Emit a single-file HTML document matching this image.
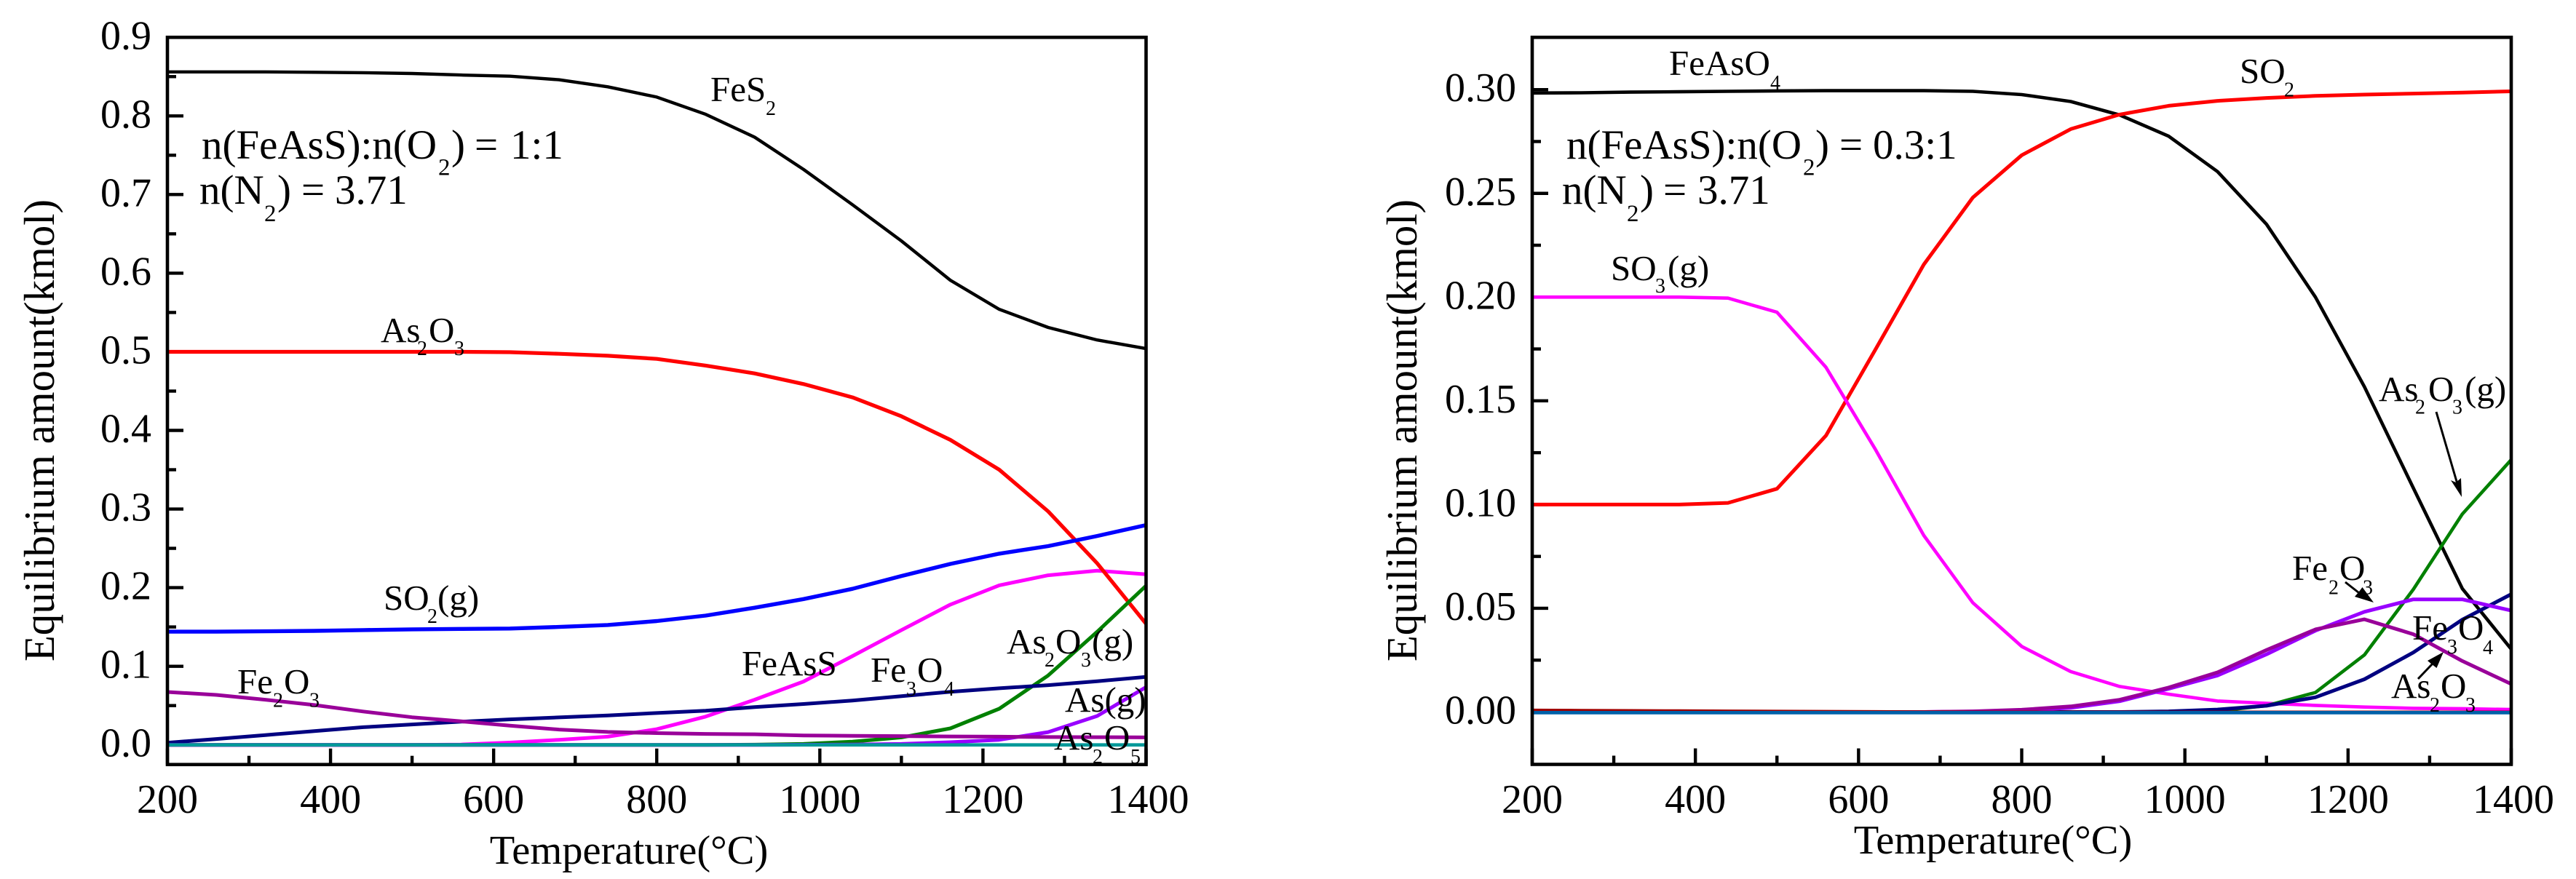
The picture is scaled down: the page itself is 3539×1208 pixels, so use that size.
<!DOCTYPE html>
<html lang="en">
<head>
<meta charset="utf-8">
<title>Equilibrium amount vs temperature</title>
<style>
  html, body { margin: 0; padding: 0; background: #fff; }
  svg { display: block; }
  text { font-family: "Liberation Serif", serif; fill: #000; }
  .tick { font-size: 56px; }
  .axis-title { font-size: 56.5px; }
  .y-title { font-size: 58.8px; }
  .lab { font-size: 49px; }
  .lab .s { font-size: 28px; }
  .cond { font-size: 57px; }
  .cond .s { font-size: 33px; }
</style>
</head>
<body>
<svg id="fig" xmlns="http://www.w3.org/2000/svg" width="3539" height="1208" viewBox="0 0 3539 1208">
  <rect x="0" y="0" width="3539" height="1208" fill="#fff"/>
  <g id="left-marks"></g>
  <g id="right-marks"></g>

  <!-- Left chart text -->
  <text class="y-title" transform="translate(74,591.5) rotate(-90)" text-anchor="middle">Equilibrium amount(kmol)</text>
  <text class="axis-title" x="864" y="1187" text-anchor="middle">Temperature(°C)</text>
  <text class="cond" x="277" y="218">n(FeAsS):n(O<tspan class="s" x="602" y="240.7">2</tspan><tspan x="620" y="218">)</tspan><tspan x="652" y="218">=</tspan><tspan x="701" y="218">1:1</tspan></text>
  <text class="cond" x="274" y="280">n(N<tspan class="s" x="363" y="304">2</tspan><tspan x="381" y="280">)</tspan><tspan x="414" y="280">=</tspan><tspan x="460" y="280">3.71</tspan></text>
  <text class="lab" x="976" y="139">FeS<tspan class="s" x="1052" y="158">2</tspan></text>
  <text class="lab" x="523" y="470">As<tspan class="s" x="573" y="488">2</tspan><tspan x="589" y="470">O</tspan><tspan class="s" x="624" y="488">3</tspan></text>
  <text class="lab" x="527" y="838">SO<tspan class="s" x="587" y="856">2</tspan><tspan x="601" y="838">(g)</tspan></text>
  <text class="lab" x="326" y="953">Fe<tspan class="s" x="375" y="971.5">2</tspan><tspan x="390" y="953">O</tspan><tspan class="s" x="425" y="971.5">3</tspan></text>
  <text class="lab" x="1019" y="928">FeAsS</text>
  <text class="lab" x="1196" y="937">Fe<tspan class="s" x="1245" y="956">3</tspan><tspan x="1260" y="937">O</tspan><tspan class="s" x="1297" y="956">4</tspan></text>
  <text class="lab" x="1383" y="898">As<tspan class="s" x="1435" y="916">2</tspan><tspan x="1450" y="898">O</tspan><tspan class="s" x="1485" y="916">3</tspan><tspan x="1500" y="898">(g)</tspan></text>
  <text class="lab" x="1463" y="978">As(g)</text>
  <text class="lab" x="1448" y="1030">As<tspan class="s" x="1501" y="1049">2</tspan><tspan x="1517" y="1030">O</tspan><tspan class="s" x="1553" y="1049">5</tspan></text>

  <!-- Right chart text -->
  <text class="y-title" transform="translate(1946,591.5) rotate(-90)" text-anchor="middle">Equilibrium amount(kmol)</text>
  <text class="axis-title" x="2738" y="1173" text-anchor="middle">Temperature(°C)</text>
  <text class="cond" x="2152" y="218">n(FeAsS):n(O<tspan class="s" x="2477" y="240.7">2</tspan><tspan x="2494" y="218">)</tspan><tspan x="2527" y="218">=</tspan><tspan x="2573" y="218">0.3:1</tspan></text>
  <text class="cond" x="2146" y="280">n(N<tspan class="s" x="2235" y="304">2</tspan><tspan x="2253" y="280">)</tspan><tspan x="2285" y="280">=</tspan><tspan x="2332" y="280">3.71</tspan></text>
  <text class="lab" x="2293" y="103">FeAsO<tspan class="s" x="2432" y="123">4</tspan></text>
  <text class="lab" x="3077" y="114">SO<tspan class="s" x="3138" y="132.5">2</tspan></text>
  <text class="lab" x="2213" y="385">SO<tspan class="s" x="2274" y="402">3</tspan><tspan x="2291" y="385">(g)</tspan></text>
  <text class="lab" x="3268" y="551">As<tspan class="s" x="3318" y="568.5">2</tspan><tspan x="3336" y="551">O</tspan><tspan class="s" x="3369" y="568.5">3</tspan><tspan x="3386" y="551">(g)</tspan></text>
  <text class="lab" x="3149" y="797">Fe<tspan class="s" x="3199" y="816.5">2</tspan><tspan x="3214" y="797">O</tspan><tspan class="s" x="3246" y="816.5">3</tspan></text>
  <text class="lab" x="3314" y="879">Fe<tspan class="s" x="3362" y="898">3</tspan><tspan x="3377" y="879">O</tspan><tspan class="s" x="3411" y="899">4</tspan></text>
  <text class="lab" x="3285" y="959">As<tspan class="s" x="3338" y="978">2</tspan><tspan x="3353" y="959">O</tspan><tspan class="s" x="3387" y="978">3</tspan></text>

  <!-- Pointer arrows -->
  <g>
    <line x1="3347" y1="566" x2="3376" y2="665" stroke="#000" stroke-width="3"/>
    <polygon points="3382,683 3367,660 3374,663 3381,657" fill="#000"/>
  </g>
  <g>
    <line x1="3222" y1="800" x2="3245" y2="818" stroke="#000" stroke-width="3"/>
    <polygon points="3261,828 3235,820 3241,813 3245.5,807" fill="#000"/>
  </g>
  <g>
    <line x1="3322" y1="933" x2="3342" y2="912" stroke="#000" stroke-width="3"/>
    <polygon points="3357,896 3335,908 3341,913 3347.5,918" fill="#000"/>
  </g>
</svg>

<script>
const temperatures = [200,260,320,380,440,500,560,620,680,740,800,860,920,980,1040,1100,1160,1220,1280,1340,1400];

const xTickValues = [200,400,600,800,1000,1200,1400];
const xMinorValues = [300,500,700,900,1100,1300];
const leftYTickLabels = ['0.0','0.1','0.2','0.3','0.4','0.5','0.6','0.7','0.8','0.9'];
const leftYMinorValues = [0.05,0.15,0.25,0.35,0.45,0.55,0.65,0.75,0.85];
const rightYTickLabels = ['0.00','0.05','0.10','0.15','0.20','0.25','0.30'];
const rightYMinorValues = [0.025,0.075,0.125,0.175,0.225,0.275];

const leftFeS2 = [.856,.856,.856,.8555,.855,.854,.852,.8505,.846,.837,.824,.802,.773,.732,.687,.641,.591,.554,.531,.515,.504];
const leftAs2O3 = [.5,.5,.5,.5,.5,.5,.5,.4995,.4975,.495,.491,.4825,.4725,.459,.442,.418,.388,.35,.297,.231,.154];
const leftSO2 = [.144,.144,.1445,.145,.146,.147,.1475,.148,.150,.1525,.1575,.1645,.1745,.1855,.1985,.2148,.2302,.2432,.2528,.2657,.2796];
const leftFeAsS = [0,0,0,0,0,0,.0005,.003,.0065,.0105,.02,.036,.0575,.0806,.113,.146,.1784,.203,.2157,.2216,.217];
const leftFe3O4 = [.0028,.0075,.0125,.0175,.0225,.026,.0295,.0325,.035,.0375,.0405,.0435,.048,.052,.0565,.062,.0675,.072,.076,.081,.0865];
const leftFe2O3 = [.0673,.0636,.0575,.0507,.0425,.0352,.03,.0245,.0195,.0165,.015,.014,.0135,.012,.0115,.0112,.0107,.0105,.01,.0098,.0095];
const leftAs2O3Gas = [0,0,0,0,0,0,0,0,0,0,0,0,.0003,.0012,.0042,.0095,.021,.046,.0883,.1438,.2025];
const leftAsGas = [0,0,0,0,0,0,0,0,0,0,0,0,0,.0002,.0005,.0012,.0034,.0065,.0163,.0367,.0735];
const leftAs2O5 = [0,0,0,0,0,0,0,0,0,0,0,0,0,0,0,0,0,0,0,0,0];

const rightFeAsO4 = [.2984,.2985,.2988,.299,.2992,.2994,.2995,.2995,.2995,.2992,.2976,.2943,.2878,.2776,.2605,.2351,.2,.1568,.108,.0595,.0303];
const rightSO2 = [.1,.1,.1,.1,.1008,.1076,.1332,.1743,.2157,.248,.2684,.281,.288,.2922,.2946,.296,.297,.2976,.2981,.2986,.2992];
const rightSO3 = [.2,.2,.2,.2,.1995,.1927,.1662,.127,.0851,.0527,.0316,.0195,.0123,.0086,.0053,.0042,.0032,.0024,.0018,.0016,.0012];
const rightAs2O3Gas = [0,0,0,0,0,0,0,0,0,0,0,0,0,0,.0005,.003,.0094,.0275,.0591,.0954,.1216];
const rightFe3O4 = [0,0,0,0,0,0,0,0,0,0,0,0,0,.0003,.0012,.003,.0071,.0158,.0287,.0445,.0568];
const rightAs2O3 = [0,0,0,0,0,0,0,0,0,.0002,.0008,.002,.0052,.0112,.0176,.0278,.0392,.0483,.0543,.0543,.0489];
const rightFe2O3 = [0,0,0,0,0,0,0,0,0,.0003,.0011,.0027,.0059,.0118,.0191,.0299,.0398,.0447,.0375,.0246,.0135];
const rightTraceRed = [.0009,.0008,.0007,.0006,.0005,.0004,.0003,.0002,.0001,0,0,0,0,0,0,0,0,0,0,0,0];
const rightBaseline = [-.0003,-.0003,-.0003,-.0003,-.0003,-.0003,-.0003,-.0003,-.0003,-.0003,-.0003,-.0003,-.0003,-.0003,-.0003,-.0003,-.0003,-.0003,-.0003,-.0003,-.0003];

const SVG_NS = 'http://www.w3.org/2000/svg';

function makeAxes(parent, left, right, top, bottom, yZeroPx, yPxPerUnit) {
  return {
    parent: parent, left: left, right: right, top: top, bottom: bottom,
    x: function (t) { return left + (t - 200) * (right - left) / 1200; },
    y: function (v) { return yZeroPx - v * yPxPerUnit; }
  };
}

function drawLine(ax, x1, y1, x2, y2, name) {
  const tick = document.createElementNS(SVG_NS, 'line');
  
  
  tick.setAttribute('x1', x1);
  tick.setAttribute('y1', y1);
  tick.setAttribute('x2', x2);
  tick.setAttribute('y2', y2);
  tick.setAttribute('stroke', '#000');
  tick.setAttribute('stroke-width', '4.4');
  ax.parent.appendChild(tick);
}

function drawLabel(ax, x, y, anchor, content, name) {
  const label = document.createElementNS(SVG_NS, 'text');
  
  
  label.setAttribute('class', 'tick');
  label.setAttribute('x', x);
  label.setAttribute('y', y);
  label.setAttribute('text-anchor', anchor);
  label.textContent = content;
  ax.parent.appendChild(label);
}

function drawTicks(ax, yLabels, yMinors, labelRight) {
  xTickValues.forEach(function (t) {
    drawLine(ax, ax.x(t), ax.bottom, ax.x(t), ax.bottom - 22, 'x-major-tick');
    drawLabel(ax, ax.x(t) + (t === 1400 ? 3 : 0), 1117, 'middle', String(t), 'x-tick-label');
  });
  xMinorValues.forEach(function (t) {
    drawLine(ax, ax.x(t), ax.bottom, ax.x(t), ax.bottom - 12, 'x-minor-tick');
  });
  yLabels.forEach(function (txt) {
    const v = parseFloat(txt);
    drawLine(ax, ax.left, ax.y(v), ax.left + 22, ax.y(v), 'y-major-tick');
    drawLabel(ax, labelRight, ax.y(v) + 16, 'end', txt, 'y-tick-label');
  });
  yMinors.forEach(function (v) {
    drawLine(ax, ax.left, ax.y(v), ax.left + 12, ax.y(v), 'y-minor-tick');
  });
}

function drawSeries(ax, values, color, width, name) {
  const curve = document.createElementNS(SVG_NS, 'polyline');
  
  
  curve.setAttribute('points', values.map(function (v, i) {
    return ax.x(temperatures[i]).toFixed(1) + ',' + ax.y(v).toFixed(1);
  }).join(' '));
  curve.setAttribute('fill', 'none');
  curve.setAttribute('stroke', color);
  curve.setAttribute('stroke-width', width);
  curve.setAttribute('stroke-linejoin', 'round');
  ax.parent.appendChild(curve);
}

function drawFrame(ax, name) {
  const frame = document.createElementNS(SVG_NS, 'rect');
  
  
  frame.setAttribute('x', ax.left);
  frame.setAttribute('y', ax.top);
  frame.setAttribute('width', ax.right - ax.left);
  frame.setAttribute('height', ax.bottom - ax.top);
  frame.setAttribute('fill', 'none');
  frame.setAttribute('stroke', '#000');
  frame.setAttribute('stroke-width', '4.6');
  ax.parent.appendChild(frame);
}

const leftAxes = makeAxes(document.getElementById('left-marks'), 230, 1574.5, 51.3, 1050.7, 1023.7, 1080.5);
drawTicks(leftAxes, leftYTickLabels, leftYMinorValues, 208);
drawSeries(leftAxes, leftFeS2, '#000000', 4.4, 'fes2-curve');
drawSeries(leftAxes, leftFeAsS, '#ff00ff', 5, 'feass-curve');
drawSeries(leftAxes, leftAs2O3, '#ff0000', 5.2, 'as2o3-curve');
drawSeries(leftAxes, leftSO2, '#0000ff', 5.4, 'so2-gas-curve');
drawSeries(leftAxes, leftAs2O3Gas, '#008000', 5, 'as2o3-gas-curve');
drawSeries(leftAxes, leftFe3O4, '#000080', 5, 'fe3o4-curve');
drawSeries(leftAxes, leftAsGas, '#9900ff', 5, 'as-gas-curve');
drawSeries(leftAxes, leftFe2O3, '#990099', 5, 'fe2o3-curve');
drawSeries(leftAxes, leftAs2O5, '#009999', 4.6, 'as2o5-curve');
drawFrame(leftAxes, 'left-plot-frame');

const rightAxes = makeAxes(document.getElementById('right-marks'), 2105, 3450, 51.3, 1050.5, 978.5, 2851);
drawTicks(rightAxes, rightYTickLabels, rightYMinorValues, 2083);
drawSeries(rightAxes, rightFeAsO4, '#000000', 4.6, 'feaso4-curve');
drawSeries(rightAxes, rightSO2, '#ff0000', 5, 'so2-curve');
drawSeries(rightAxes, rightSO3, '#ff00ff', 4.6, 'so3-gas-curve');
drawSeries(rightAxes, rightAs2O3Gas, '#008000', 4.6, 'right-as2o3-gas-curve');
drawSeries(rightAxes, rightFe3O4, '#000080', 5, 'right-fe3o4-curve');
drawSeries(rightAxes, rightAs2O3, '#9900ff', 5, 'right-as2o3-curve');
drawSeries(rightAxes, rightFe2O3, '#990099', 5, 'right-fe2o3-curve');
drawSeries(rightAxes, rightTraceRed, '#a00000', 4, 'trace-red-curve');
drawSeries(rightAxes, rightBaseline, '#0060a8', 4.8, 'baseline-blue-curve');
drawFrame(rightAxes, 'right-plot-frame');
</script>
</body>
</html>
